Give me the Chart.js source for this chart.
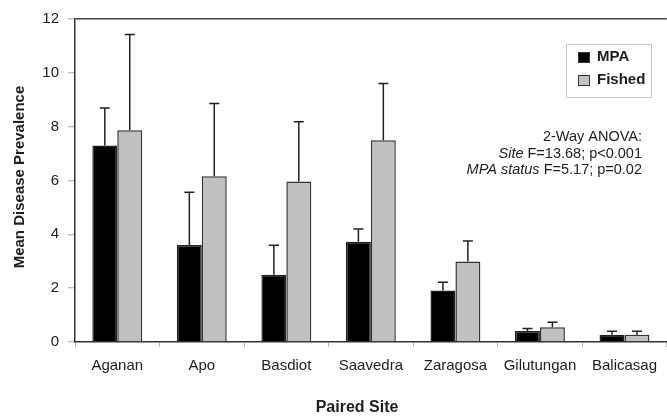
<!DOCTYPE html>
<html>
<head>
<meta charset="utf-8">
<script src="https://cdn.jsdelivr.net/npm/chart.js@4/dist/chart.umd.min.js"></script>
<style>
  html, body { margin: 0; padding: 0; background: #fff; }
  #wrap { width: 667px; height: 418px; }
</style>
</head>
<body>
<div id="wrap"><canvas id="c" width="667" height="418"></canvas></div>
<script>
const categories = ['Aganan', 'Apo', 'Basdiot', 'Saavedra', 'Zaragosa', 'Gilutungan', 'Balicasag'];
const mpaMeans = [7.30, 3.60, 2.50, 3.72, 1.91, 0.41, 0.27];
const mpaErrors = [1.39, 1.96, 1.09, 0.48, 0.31, 0.09, 0.13];
const fishedMeans = [7.87, 6.16, 5.96, 7.50, 2.99, 0.55, 0.27];
const fishedErrors = [3.55, 2.70, 2.22, 2.10, 0.76, 0.18, 0.13];
const yTicks = [0, 2, 4, 6, 8, 10, 12];
const xTitle = 'Paired Site';
const yTitle = 'Mean Disease Prevalence';
const anovaLines = [
  ['', '2-Way ANOVA:'],
  ['Site', ' F=13.68; p<0.001'],
  ['MPA status', ' F=5.17; p=0.02']
];

const FONT = '"Liberation Sans", Arial, sans-serif';
const TXT = '#1e1e1e';

const errorBarPlugin = {
  id: 'errorBars',
  afterDatasetsDraw(chart) {
    const ctx = chart.ctx;
    const y = chart.scales.y;
    chart.data.datasets.forEach((ds, i) => {
      const meta = chart.getDatasetMeta(i);
      meta.data.forEach((bar, j) => {
        const top = y.getPixelForValue(ds.data[j] + ds.errors[j]);
        const base = y.getPixelForValue(ds.data[j]);
        ctx.save();
        ctx.strokeStyle = '#222';
        ctx.lineWidth = 1.5;
        ctx.beginPath();
        ctx.moveTo(bar.x, base);
        ctx.lineTo(bar.x, top);
        ctx.moveTo(bar.x - 5, top);
        ctx.lineTo(bar.x + 5, top);
        ctx.stroke();
        ctx.restore();
      });
    });
  }
};

const decorPlugin = {
  id: 'decor',
  afterDraw(chart) {
    const ctx = chart.ctx;
    ctx.save();
    // axis titles
    ctx.fillStyle = TXT;
    ctx.textAlign = 'center';
    ctx.textBaseline = 'middle';
    ctx.font = 'bold 16px ' + FONT;
    ctx.fillText(xTitle, 357, 408);
    ctx.save();
    ctx.translate(20, 177);
    ctx.rotate(-Math.PI / 2);
    ctx.font = 'bold 15px ' + FONT;
    ctx.fillText(yTitle, 0, 0);
    ctx.restore();

    // legend box
    ctx.strokeStyle = '#c8c8c8';
    ctx.lineWidth = 1;
    ctx.strokeRect(566.5, 44.5, 85, 53);
    chart.data.datasets.forEach((ds, i) => {
      const cy = 57 + i * 23;
      ctx.fillStyle = ds.backgroundColor;
      ctx.fillRect(578, cy - 5, 12, 11);
      ctx.strokeStyle = '#333';
      ctx.lineWidth = 1;
      ctx.strokeRect(578.5, cy - 4.5, 11, 10);
      ctx.fillStyle = TXT;
      ctx.textAlign = 'left';
      ctx.textBaseline = 'middle';
      ctx.font = 'bold 15px ' + FONT;
      ctx.fillText(ds.label, 597, cy);
    });

    // ANOVA annotation
    const rightX = 642;
    ctx.textBaseline = 'alphabetic';
    ctx.textAlign = 'right';
    anovaLines.forEach((ln, k) => {
      const by = 141 + k * 16.7;
      ctx.font = '14.5px ' + FONT;
      ctx.fillStyle = TXT;
      const w = ctx.measureText(ln[1]).width;
      ctx.fillText(ln[1], rightX, by);
      if (ln[0]) {
        ctx.font = 'italic 14.5px ' + FONT;
        ctx.fillText(ln[0], rightX - w, by);
      }
    });
    ctx.restore();
  }
};

new Chart(document.getElementById('c'), {
  type: 'bar',
  data: {
    labels: categories,
    datasets: [
      { label: 'MPA', data: mpaMeans, errors: mpaErrors, backgroundColor: '#000000', borderColor: '#222', borderWidth: 1.5,
        categoryPercentage: 0.59, barPercentage: 1.0 },
      { label: 'Fished', data: fishedMeans, errors: fishedErrors, backgroundColor: '#c0c0c0', borderColor: '#333', borderWidth: 1.5,
        categoryPercentage: 0.59, barPercentage: 1.0 }
    ]
  },
  options: {
    responsive: false,
    animation: false,
    layout: { padding: { top: 19, left: 0, right: 0, bottom: 0 } },
    plugins: { legend: { display: false }, tooltip: { enabled: false }, title: { display: false } },
    scales: {
      x: {
        afterFit(s) { s.height = 76; },
        grid: { color: 'rgba(0,0,0,0)', tickColor: '#bbb', tickLength: 5, offset: true },
        border: { display: true, color: '#333', width: 1.5 },
        ticks: { color: TXT, font: { family: FONT, size: 15 }, padding: 10, maxRotation: 0, autoSkip: false }
      },
      y: {
        min: 0, max: 12,
        afterFit(s) { s.width = 75; },
        afterBuildTicks(s) { s.ticks = yTicks.map(v => ({ value: v })); },
        grid: {
          color: (c) => (c.tick && c.tick.value === 12) ? '#444' : 'rgba(0,0,0,0)',
          lineWidth: 1.5,
          tickColor: '#aaa', tickLength: 7, tickWidth: 1
        },
        border: { display: true, color: '#333', width: 1.5 },
        ticks: { color: TXT, font: { family: FONT, size: 15 }, padding: 9 }
      }
    }
  },
  plugins: [errorBarPlugin, decorPlugin]
});
</script>
</body>
</html>
